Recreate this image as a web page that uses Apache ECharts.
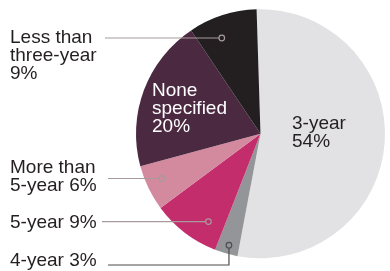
<!DOCTYPE html>
<html>
<head>
<meta charset="utf-8">
<script src="https://cdn.jsdelivr.net/npm/echarts@6/dist/echarts.min.js"></script>
<style>
  html, body { margin: 0; padding: 0; background: #fff; }
  #chart { width: 390px; height: 271px; }
</style>
</head>
<body>
<div id="chart"></div>
<script>
// data
var categories = ['3-year', '4-year', '5-year', 'More than\n5-year', 'None\nspecified', 'Less than\nthree-year'];
var values = [54, 3, 9, 6, 20, 9];
var sliceColors = ['#e2e2e4', '#939598', '#c42d6b', '#d38a9f', '#4b2941', '#231f20'];

// layout of the pie and its labels
var center = [260.5, 133.8], radius = 124.5, startAngle = 91.8;
var spots = [
  {x: 292, y: 133, inside: true, sep: '\n', color: '#231f20'},
  {x: 10, y: 261, sep: ' ', lineX: 108, a: 0.48, r: 0.93, elbow: 265, line: '#4d4d4f'},
  {x: 10, y: 223, sep: ' ', lineX: 102, a: 0.29, r: 0.82, line: '#a89a9c'},
  {x: 10, y: 177, sep: ' ', lineX: 108, a: 0.57, r: 0.87, line: '#a89a9c'},
  {x: 152, y: 109, inside: true, sep: '\n', color: '#fff'},
  {x: 10, y: 56, sep: '\n', lineX: 105, a: 0.37, r: 0.83, line: '#a89a9c'}
];

// anchor point of each leader line, from the slice angles
var total = values.reduce(function(s, v) { return s + v; }, 0);
var acc = 90 - startAngle; // degrees clockwise from 12 o'clock
var anchors = [];
for (var i = 0; i < values.length; i++) {
  var span = values[i] / total * 360;
  var sp = spots[i];
  if (!sp.inside) {
    var ang = (acc + span * sp.a) * Math.PI / 180;
    var rr = radius * sp.r;
    anchors[i] = [center[0] + rr * Math.sin(ang), center[1] - rr * Math.cos(ang)];
  }
  acc += span;
}

var data = categories.map(function(name, i) {
  return {
    name: name,
    value: values[i],
    itemStyle: {color: sliceColors[i]},
    label: {color: spots[i].color || '#231f20'}
  };
});

// leader lines and end dots, drawn over the slices
var marks = [];
anchors.forEach(function(p, i) {
  if (!p) return;
  var sp = spots[i];
  var pts = sp.elbow
    ? [[sp.lineX, sp.elbow], [p[0], sp.elbow], [p[0], p[1]]]
    : [[sp.lineX, p[1]], [p[0], p[1]]];
  marks.push({
    type: 'polyline', z: 99,
    shape: {points: pts},
    style: {stroke: sp.line, lineWidth: 1.2, fill: null}
  });
  marks.push({
    type: 'circle', z: 100,
    shape: {cx: p[0], cy: p[1], r: 2.8},
    style: {fill: sliceColors[i], stroke: sp.line, lineWidth: 1.2}
  });
});

var myChart = echarts.init(document.getElementById('chart'));
var option = {
  animation: false,
  backgroundColor: '#fff',
  graphic: marks,
  series: [{
    type: 'pie',
    center: center,
    radius: radius,
    startAngle: startAngle,
    clockwise: true,
    avoidLabelOverlap: false,
    emphasis: {disabled: true},
    itemStyle: {borderWidth: 0},
    label: {
      show: true,
      position: 'outside',
      fontFamily: 'Liberation Sans, Arial, sans-serif',
      fontSize: 19,
      lineHeight: 18,
      formatter: function(p) {
        return p.name + spots[p.dataIndex].sep + p.value + '%';
      }
    },
    labelLine: {show: false},
    labelLayout: function(params) {
      var sp = spots[params.dataIndex];
      return {x: sp.x, y: sp.y, align: 'left', verticalAlign: 'middle'};
    },
    data: data
  }]
};
myChart.setOption(option);
</script>
</body>
</html>
